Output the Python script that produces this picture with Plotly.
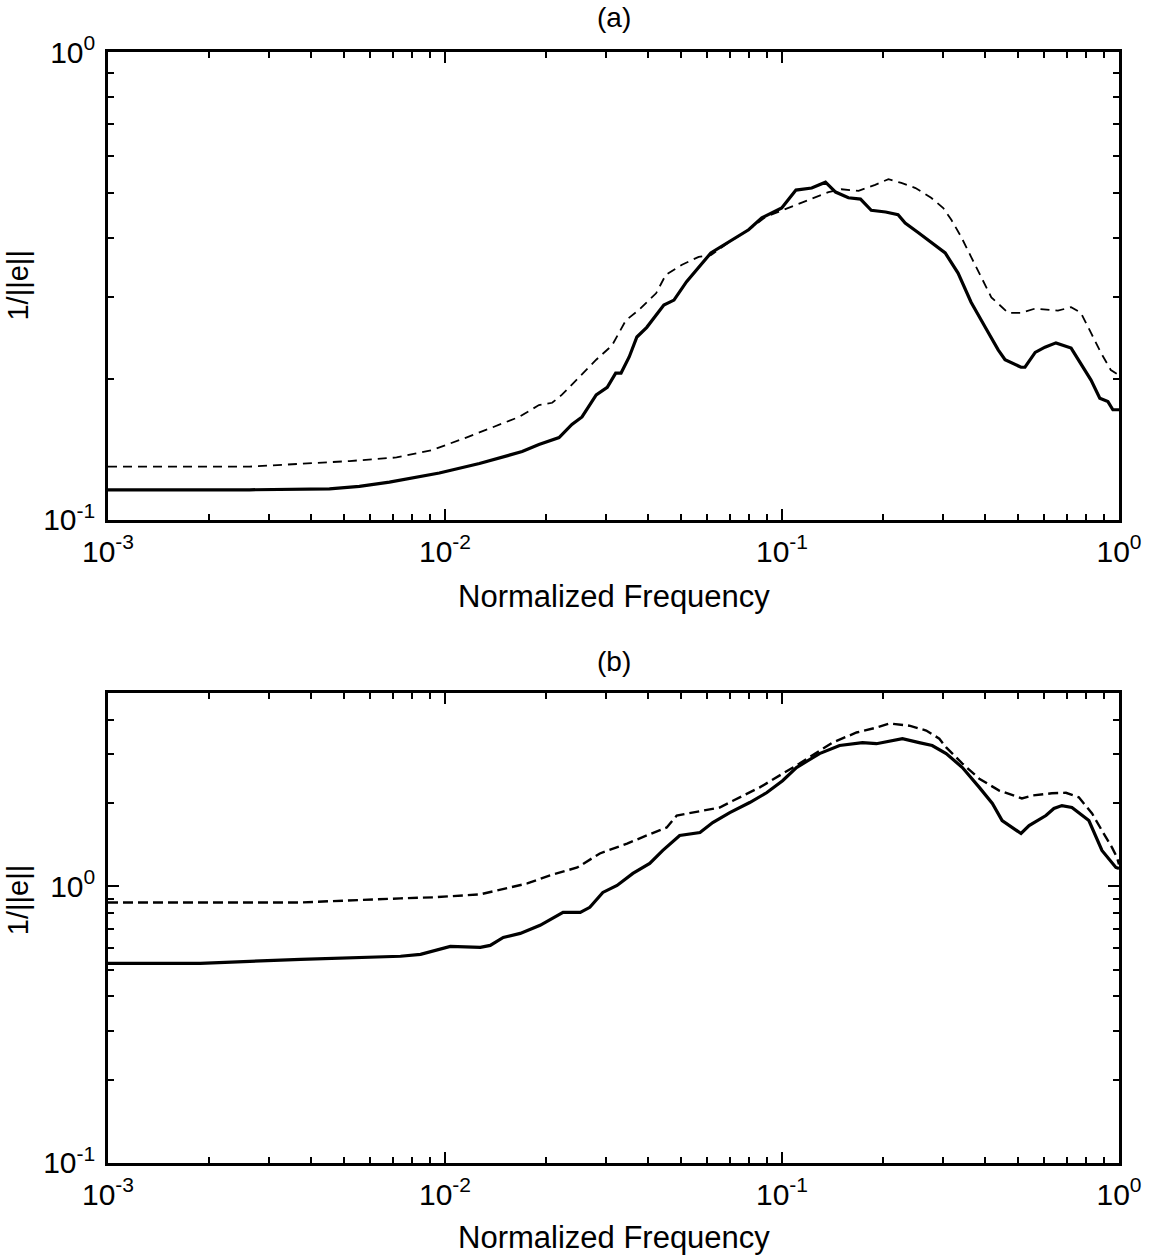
import plotly.graph_objects as go

# ---- Panel (a): 1/||e|| versus normalized frequency ----
freq_a_solid = [0.001, 0.00263, 0.00454, 0.00557, 0.00684, 0.00962, 0.01265, 0.01694,
                0.0190, 0.0218, 0.0238, 0.0255, 0.0281, 0.0303, 0.0321, 0.0333, 0.0352,
                0.0371, 0.0397, 0.0446, 0.0478, 0.0521, 0.0615, 0.0710, 0.0796, 0.0871,
                0.0998, 0.110, 0.1225, 0.1346, 0.1442, 0.1574, 0.171, 0.184, 0.203, 0.221,
                0.232, 0.254, 0.291, 0.305, 0.333, 0.364, 0.401, 0.438, 0.459, 0.512,
                0.526, 0.564, 0.603, 0.650, 0.721, 0.771, 0.826, 0.877, 0.927, 0.959, 1.0]
err_a_solid = [0.116, 0.116, 0.1165, 0.118, 0.1205, 0.126, 0.132, 0.140,
               0.145, 0.150, 0.160, 0.166, 0.185, 0.192, 0.206, 0.206, 0.223,
               0.246, 0.258, 0.288, 0.295, 0.323, 0.372, 0.396, 0.417, 0.442,
               0.464, 0.507, 0.512, 0.527, 0.502, 0.488, 0.485, 0.459, 0.455, 0.449,
               0.431, 0.411, 0.383, 0.372, 0.337, 0.292, 0.258, 0.231, 0.220, 0.212,
               0.212, 0.228, 0.234, 0.239, 0.233, 0.216, 0.199, 0.182, 0.179, 0.172, 0.172]

freq_a_dash = [0.001, 0.00263, 0.00371, 0.00521, 0.00718, 0.00916, 0.01156, 0.01449,
               0.0166, 0.0190, 0.0208, 0.0222, 0.0250, 0.0281, 0.0313, 0.0344, 0.0376,
               0.0423, 0.0452, 0.0505, 0.0566, 0.0615, 0.0710, 0.0796, 0.0893, 0.1096,
               0.1259, 0.1374, 0.150, 0.1687, 0.189, 0.207, 0.226, 0.249, 0.277, 0.301,
               0.318, 0.340, 0.364, 0.390, 0.418, 0.469, 0.512, 0.564, 0.659, 0.721,
               0.771, 0.826, 0.883, 0.946, 1.0]
err_a_dash = [0.130, 0.130, 0.1318, 0.1336, 0.136, 0.141, 0.150, 0.160,
              0.166, 0.176, 0.178, 0.185, 0.202, 0.220, 0.236, 0.267, 0.281,
              0.305, 0.334, 0.351, 0.365, 0.368, 0.396, 0.417, 0.444, 0.471,
              0.490, 0.502, 0.509, 0.505, 0.520, 0.535, 0.525, 0.512, 0.488, 0.464,
              0.438, 0.403, 0.365, 0.331, 0.299, 0.277, 0.277, 0.283, 0.280, 0.285,
              0.277, 0.251, 0.228, 0.209, 0.204]

# ---- Panel (b) ----
freq_b_solid = [0.001, 0.00188, 0.00373, 0.00738, 0.00846, 0.01037, 0.01273, 0.01362,
                0.01489, 0.01672, 0.01915, 0.0224, 0.0252, 0.0269, 0.0294, 0.0324,
                0.0361, 0.0405, 0.0443, 0.0497, 0.0571, 0.0623, 0.0700, 0.0802, 0.0900,
                0.1004, 0.1104, 0.1292, 0.1482, 0.1733, 0.1906, 0.2277, 0.2553, 0.279,
                0.307, 0.343, 0.385, 0.421, 0.450, 0.512, 0.541, 0.607, 0.641, 0.677,
                0.725, 0.814, 0.890, 0.979, 1.0]
err_b_solid = [0.527, 0.527, 0.545, 0.559, 0.568, 0.607, 0.602, 0.612,
               0.654, 0.676, 0.723, 0.806, 0.806, 0.840, 0.951, 1.008,
               1.114, 1.211, 1.349, 1.528, 1.566, 1.702, 1.849, 2.01, 2.18,
               2.41, 2.69, 3.02, 3.23, 3.31, 3.28, 3.42, 3.31, 3.23,
               3.02, 2.69, 2.28, 1.994, 1.730, 1.553, 1.660, 1.804, 1.913, 1.959,
               1.928, 1.730, 1.349, 1.171, 1.161]

freq_b_dash = [0.001, 0.00373, 0.00738, 0.00923, 0.01273, 0.01458, 0.01754, 0.0205,
               0.0247, 0.0288, 0.0347, 0.0397, 0.0455, 0.0487, 0.0571, 0.0653, 0.0715,
               0.0859, 0.1127, 0.1412, 0.1664, 0.1906, 0.2083, 0.2387, 0.2679, 0.293,
               0.307, 0.343, 0.385, 0.441, 0.515, 0.552, 0.632, 0.696, 0.760, 0.832,
               0.890, 0.953, 0.986, 1.0]
err_b_dash = [0.875, 0.875, 0.905, 0.913, 0.936, 0.975, 1.025, 1.096,
              1.171, 1.315, 1.429, 1.528, 1.633, 1.804, 1.866, 1.928, 2.04,
              2.28, 2.78, 3.31, 3.60, 3.75, 3.88, 3.81, 3.66, 3.42,
              3.18, 2.78, 2.45, 2.22, 2.08, 2.13, 2.17, 2.18, 2.10, 1.835,
              1.592, 1.383, 1.273, 1.20]

x_major = [0.001, 0.01, 0.1, 1]
x_major_text = ["10<sup>-3</sup>", "10<sup>-2</sup>", "10<sup>-1</sup>", "10<sup>0</sup>"]
y_major = [0.1, 1]
y_major_text = ["10<sup>-1</sup>", "10<sup>0</sup>"]

x_minor = [m * 10 ** k for k in (-3, -2, -1) for m in range(2, 10)]
y_minor_a = [m / 10 for m in range(2, 10)]
y_minor_b = y_minor_a + [2, 3, 4]

FONT = "Liberation Sans"
INK = "black"

fig = go.Figure()

solid_line = dict(color=INK, width=3.2)

fig.add_trace(go.Scatter(x=freq_a_dash, y=err_a_dash, mode="lines",
                         line=dict(color=INK, width=1.8, dash="9px,6px"),
                         xaxis="x", yaxis="y", showlegend=False))
fig.add_trace(go.Scatter(x=freq_a_solid, y=err_a_solid, mode="lines", line=solid_line,
                         xaxis="x", yaxis="y", showlegend=False))
fig.add_trace(go.Scatter(x=freq_b_dash, y=err_b_dash, mode="lines",
                         line=dict(color=INK, width=2.4, dash="10px,5px"),
                         xaxis="x2", yaxis="y2", showlegend=False))
fig.add_trace(go.Scatter(x=freq_b_solid, y=err_b_solid, mode="lines", line=solid_line,
                         xaxis="x2", yaxis="y2", showlegend=False))


def log_axis(rng, major, major_text, minor, standoff, **kw):
    return dict(
        type="log", range=rng, tickmode="array", tickvals=major, ticktext=major_text,
        ticks="inside", ticklen=11, tickwidth=2, tickcolor=INK,
        minor=dict(tickmode="array", tickvals=minor, ticks="inside", ticklen=6,
                   tickwidth=1.5, tickcolor=INK, showgrid=False),
        showline=True, linecolor=INK, linewidth=2.5, mirror="allticks",
        showgrid=False, zeroline=False,
        tickfont=dict(family=FONT, size=30, color=INK),
        ticklabelstandoff=standoff, **kw)


fig.update_layout(
    width=1154, height=1256,
    margin=dict(l=108, r=33, t=52, b=93),
    paper_bgcolor="white", plot_bgcolor="white",
    xaxis=log_axis([-3, 0], x_major, x_major_text, x_minor, 3, domain=[0, 1], anchor="y"),
    yaxis=log_axis([-1, 0], y_major, y_major_text, y_minor_a, 4, domain=[0.5788, 1], anchor="x"),
    xaxis2=log_axis([-3, 0], x_major, x_major_text, x_minor, 3, domain=[0, 1], anchor="y2"),
    yaxis2=log_axis([-1, 0.69897], y_major, y_major_text, y_minor_b, 4,
                    domain=[0, 0.4230], anchor="x2"),
)


def label(text, x, y, size, angle=0):
    fig.add_annotation(text=text, x=x, y=y, xref="paper", yref="paper",
                       xanchor="center", yanchor="middle", textangle=angle,
                       showarrow=False, font=dict(family=FONT, size=size, color=INK))


label("(a)", 0.5, 1.0315, 28)
label("(b)", 0.5, 0.451, 28)
label("Normalized Frequency", 0.5, 0.5095, 31)
label("Normalized Frequency", 0.5, -0.0675, 31)
label("1/||e||", -0.0888, 0.790, 29, angle=-90)
label("1/||e||", -0.0888, 0.2367, 29, angle=-90)

fig.write_html("out.html")
